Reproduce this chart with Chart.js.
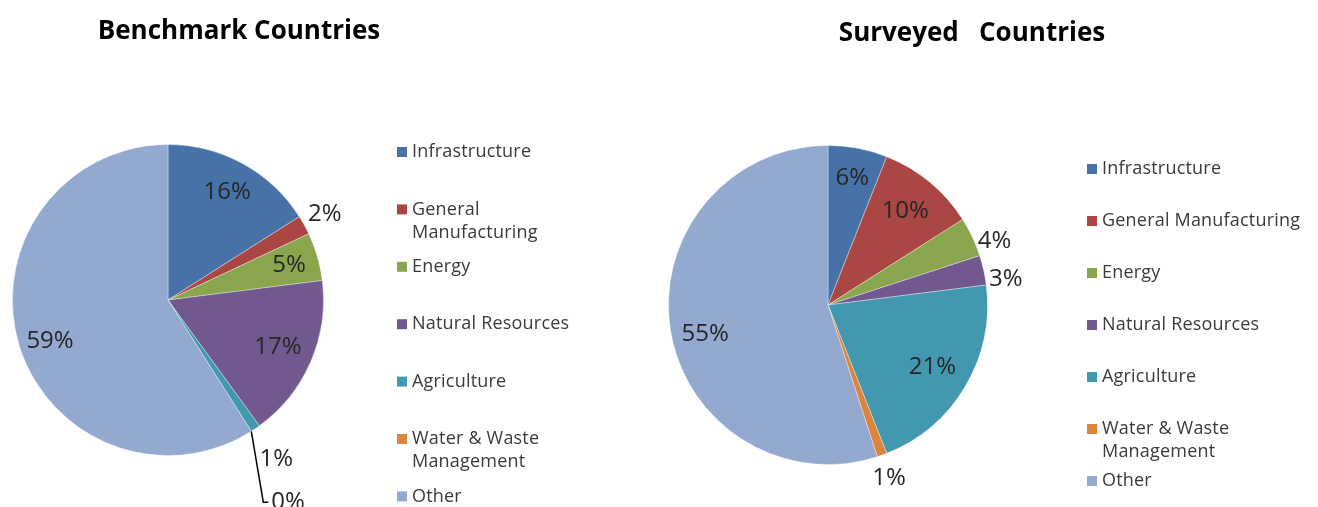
<!DOCTYPE html>
<html>
<head>
<meta charset="utf-8">
<script src="https://cdn.jsdelivr.net/npm/chart.js@4.4.1/dist/chart.umd.min.js"></script>
<style>
  html, body { margin: 0; padding: 0; background: #fff; }
  #wrap { position: relative; width: 1318px; height: 507px; overflow: hidden; }
  canvas { position: absolute; top: 0; }
  #benchmark { left: 0; }
  #surveyed { left: 660px; }
</style>
</head>
<body>
<div id="wrap">
  <canvas id="benchmark" width="660" height="507"></canvas>
  <canvas id="surveyed" width="658" height="507"></canvas>
</div>
<script>
// Sector shares (%) by country group
const sectors = ['Infrastructure', 'General Manufacturing', 'Energy', 'Natural Resources',
  'Agriculture', 'Water & Waste Management', 'Other'];
const benchmarkShares = [16, 2, 5, 17, 1, 0, 59];
const surveyedShares = [6, 10, 4, 3, 21, 1, 55];
const sectorColors = ['#4672a8', '#aa4643', '#89a54e', '#71588f', '#4198af', '#db843d', '#93a9cf'];

const FONT = '"Open Sans", "DejaVu Sans", sans-serif';

// where each value label sits: r = fraction of the radius along the slice middle
const benchmarkLabelPlace = [
  { r: 0.79 }, { r: 1.15 }, { r: 0.81 }, { r: 0.77 }, { r: 1.24 }, { leader: true }, { r: 0.79, dy: 7 }
];
const surveyedLabelPlace = [
  { r: 0.81 }, { r: 0.76 }, { r: 1.12, dx: 5, dy: 12 }, { r: 1.11, dx: 5, dy: 13 }, { r: 0.76 }, { r: 1.13, dy: 4 }, { r: 0.78, dy: 10 }
];

// value labels drawn next to / inside the arcs
const sliceLabels = {
  id: 'sliceLabels',
  afterDatasetsDraw(chart, args, opts) {
    const ctx = chart.ctx;
    const meta = chart.getDatasetMeta(0);
    const values = chart.data.datasets[0].data;
    ctx.save();
    ctx.font = '24px ' + FONT;
    ctx.fillStyle = '#262626';
    ctx.textAlign = 'center';
    ctx.textBaseline = 'middle';
    meta.data.forEach((arc, i) => {
      const p = arc.getProps(['x', 'y', 'startAngle', 'endAngle', 'outerRadius'], true);
      const place = opts.place[i];
      const text = values[i] + '%';
      if (place.leader) {
        const sx = p.x + Math.cos(p.startAngle) * p.outerRadius;
        const sy = p.y + Math.sin(p.startAngle) * p.outerRadius;
        ctx.strokeStyle = '#000';
        ctx.lineWidth = 1.5;
        ctx.beginPath();
        ctx.moveTo(sx, sy);
        ctx.lineTo(sx + 12, sy + 71);
        ctx.lineTo(sx + 17, sy + 71);
        ctx.stroke();
        ctx.textAlign = 'left';
        ctx.fillText(text, sx + 20, sy + 71);
        ctx.textAlign = 'center';
        return;
      }
      const mid = (p.startAngle + p.endAngle) / 2;
      const d = place.r * p.outerRadius;
      ctx.fillText(text, p.x + Math.cos(mid) * d + (place.dx || 0), p.y + Math.sin(mid) * d + (place.dy || 0));
    });
    ctx.restore();
  }
};

// chart title and the legend at the right of the pie
const sideLegend = {
  id: 'sideLegend',
  afterDraw(chart, args, opts) {
    const ctx = chart.ctx;
    ctx.save();
    ctx.font = 'bold 26px ' + FONT;
    ctx.fillStyle = '#000';
    ctx.textAlign = 'center';
    ctx.textBaseline = 'middle';
    ctx.fillText(opts.title, opts.titleX, opts.titleY);

    ctx.font = '18px ' + FONT;
    ctx.letterSpacing = '0.2px';
    ctx.textAlign = 'left';
    const colors = chart.data.datasets[0].backgroundColor;
    chart.data.labels.forEach((label, i) => {
      const y = opts.y + i * opts.pitch;
      ctx.fillStyle = colors[i];
      ctx.fillRect(opts.x, y - 5, 10, 10);
      // wrap words onto a second line when too wide
      const lines = [];
      let line = '';
      label.split(' ').forEach(w => {
        const t = line ? line + ' ' + w : w;
        if (line && ctx.measureText(t).width > opts.maxWidth) {
          lines.push(line);
          line = w;
        } else {
          line = t;
        }
      });
      lines.push(line);
      ctx.fillStyle = '#3a3a3a';
      lines.forEach((l, k) => ctx.fillText(l, opts.x + 15, y + k * 23));
    });
    ctx.restore();
  }
};

function makePie(id, data, place, pad, legend) {
  return new Chart(document.getElementById(id), {
    type: 'pie',
    data: {
      labels: sectors,
      datasets: [{
        data: data,
        backgroundColor: sectorColors,
        borderColor: 'rgba(255,255,255,0.35)',
        borderWidth: 1
      }]
    },
    options: {
      responsive: false,
      animation: false,
      layout: { padding: pad },
      plugins: {
        legend: { display: false },
        tooltip: { enabled: false },
        sliceLabels: { place: place },
        sideLegend: legend
      }
    },
    plugins: [sliceLabels, sideLegend]
  });
}

makePie('benchmark', benchmarkShares, benchmarkLabelPlace,
  { left: 12, top: 144, right: 336, bottom: 51 },
  { title: 'Benchmark Countries', titleX: 239, titleY: 32, x: 397, y: 152, pitch: 57.4, maxWidth: 185 });

makePie('surveyed', surveyedShares, surveyedLabelPlace,
  { left: 8, top: 145, right: 330, bottom: 42 },
  { title: 'Surveyed   Countries', titleX: 312, titleY: 34, x: 427, y: 169, pitch: 52, maxWidth: 222 });
</script>
</body>
</html>
